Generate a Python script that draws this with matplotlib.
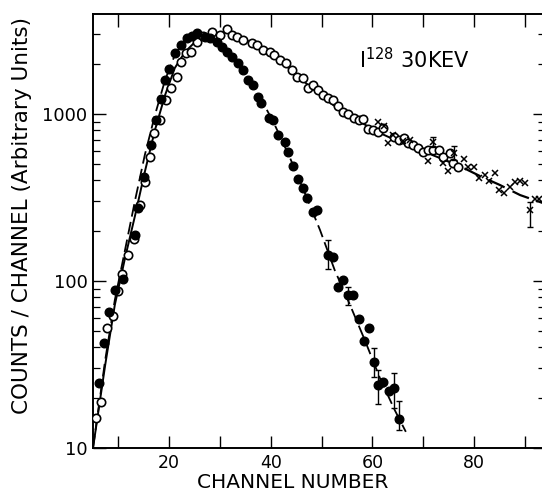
import numpy as np
import matplotlib
matplotlib.use("Agg")
import matplotlib.pyplot as plt
from matplotlib.ticker import FixedLocator, LogLocator, NullFormatter

plt.rcParams['font.family'] = ['DejaVu Sans']
plt.rcParams['mathtext.default'] = 'regular'

# ── filled circles (dashed fit) ───────────────────────────────────────────────
ch_full = [6.2, 7.2, 8.2, 9.3, 10.9, 13.3, 13.9, 15.0, 16.4, 17.4, 18.4, 19.2,
           20.0, 21.1, 22.3, 23.5, 24.5, 25.5, 27.0, 28.0, 29.4, 30.4, 31.4,
           32.4, 33.5, 34.5, 35.5, 36.5, 37.5, 38.1, 39.6, 40.4, 41.4, 42.8,
           43.4, 44.4, 45.4, 46.3, 47.1, 48.3, 49.1, 51.3, 52.2, 53.2, 54.2,
           55.2, 56.2, 57.4, 58.3, 59.3, 60.3, 61.1, 62.1, 63.3, 64.3, 65.2]
cnt_full = [24.5, 42.6, 65, 88, 103, 188, 273, 420, 652, 920, 1230, 1600,
            1860, 2320, 2590, 2850, 2930, 3050, 2890, 2850, 2700, 2520, 2350,
            2190, 2020, 1830, 1600, 1490, 1265, 1160, 946, 920, 748, 679,
            592, 488, 408, 361, 314, 259, 266, 143, 139, 92, 101,
            82, 82, 59, 44, 52, 32.7, 23.8, 24.8, 21.9, 22.8, 14.9]

# error bars on filled circles: channel, low, high
eb_full_ch = [51.3, 55.2, 60.3, 61.1, 64.3, 65.2]
eb_full_lo = [118, 72, 26.6, 18.3, 17.4, 12.8]
eb_full_hi = [176, 92, 39.7, 29.3, 28.1, 19.1]

# ── open circles (solid fit) ──────────────────────────────────────────────────
ch_open = [5.6, 6.6, 7.8, 8.9, 9.9, 10.7, 11.9, 13.1, 14.3, 15.2, 16.2, 17.0,
           18.2, 19.4, 20.4, 21.5, 22.3, 23.3, 24.3, 25.5, 26.7, 28.4, 30.0,
           31.4, 32.4, 33.3, 34.5, 36.3, 37.3, 38.5, 39.8, 40.6, 41.8, 43.0,
           44.2, 45.2, 46.3, 47.3, 48.3, 49.3, 50.3, 51.3, 52.2, 53.2, 54.2,
           55.2, 56.4, 57.4, 58.1, 59.1, 60.1, 61.1, 62.1, 64.3, 65.2, 66.2,
           67.0, 68.0, 69.0, 70.0, 70.9, 71.9, 73.1, 73.9, 75.3, 75.9, 76.9]
cnt_open = [15.1, 18.8, 52, 62, 87, 110, 143, 178, 285, 392, 553, 769,
            920, 1213, 1432, 1667, 2050, 2320, 2350, 2700, 2930, 3100, 2970,
            3230, 2970, 2890, 2770, 2660, 2590, 2420, 2350, 2250, 2100, 2020,
            1830, 1667, 1645, 1432, 1490, 1393, 1300, 1247, 1213, 1117, 1028,
            1000, 946, 920, 934, 813, 802, 780, 824, 728, 698, 718,
            670, 652, 625, 592, 608, 608, 608, 553, 583, 509, 482]

# ── crosses ───────────────────────────────────────────────────────────────────
ch_x = [61.1, 62.3, 63.1, 64.1, 66.0, 67.5, 70.9, 71.9, 73.9, 74.9, 76.1,
        78.0, 78.8, 80.0, 81.0, 82.2, 83.0, 84.1, 84.9, 85.9, 87.1, 88.1,
        89.1, 90.0, 91.0, 92.0, 92.8]
cnt_x = [896, 847, 670, 748, 690, 700, 523, 679, 509, 456, 583,
         537, 482, 482, 414, 432, 397, 444, 351, 337, 366, 392,
         397, 386, 266, 310, 310]

eb_x_ch = [71.9, 76.1, 91.0]
eb_x_lo = [633, 528, 210]
eb_x_hi = [728, 643, 297]

# ── fit curves ────────────────────────────────────────────────────────────────
fit_full_ch = [5.0, 7.4, 9.3, 11.3, 13.3, 15.2, 17.2, 19.2, 21.1, 23.1, 25.1,
               27.0, 29.0, 32.0, 34.9, 37.9, 40.8, 43.8, 46.7, 49.7, 52.6,
               55.6, 58.5, 61.5, 64.4, 66.6]
fit_full_cnt = [10, 33.6, 77, 153, 306, 568, 986, 1600, 2250, 2770, 3050,
                2970, 2770, 2320, 1830, 1265, 859, 545, 337, 202, 116,
                72, 44.4, 26.2, 16.9, 12.5]

fit_open_ch = [5.0, 7.4, 9.3, 11.3, 13.3, 15.2, 17.2, 19.2, 21.1, 23.1, 25.1,
               28.0, 31.0, 33.9, 37.9, 41.8, 45.7, 49.7, 53.6, 57.6, 61.5,
               65.4, 69.4, 73.3]
fit_open_cnt = [10, 31.4, 72, 137, 248, 450, 802, 1300, 1884, 2350, 2700,
                3010, 3100, 2890, 2520, 2100, 1645, 1300, 1057, 896, 769,
                679, 608, 545]
fit_tail_ch = [73.3, 77.2, 81.2, 85.1, 89.1, 94.0]
fit_tail_cnt = [545, 488, 425, 376, 327, 290]

# ── plot ──────────────────────────────────────────────────────────────────────
fig = plt.figure(figsize=(5.42, 4.91), dpi=100, facecolor='white')
ax = fig.add_axes([93/542, 43/491, 452/542, 434/491])
ax.set_yscale('log')
ax.set_xlim(5, 94)
ax.set_ylim(10, 3970)

k = 'black'
ax.plot(fit_full_ch, fit_full_cnt, color=k, lw=1.3, dashes=(7, 3), zorder=2)
ax.plot(fit_open_ch, fit_open_cnt, color=k, lw=1.4, zorder=2)
ax.plot(fit_tail_ch, fit_tail_cnt, color=k, lw=1.6, dashes=(8, 4), zorder=2)

ax.plot(ch_open, cnt_open, 'o', ms=6, mfc='white', mec=k, mew=1.2, zorder=3)
ax.plot(ch_full, cnt_full, 'o', ms=6.2, mfc=k, mec=k, zorder=4)
ax.plot(ch_x, cnt_x, 'x', ms=4, mec=k, mew=1.1, zorder=4)

for chs, lo, hi in [(eb_full_ch, eb_full_lo, eb_full_hi),
                    (eb_x_ch, eb_x_lo, eb_x_hi)]:
    ax.vlines(chs, lo, hi, color=k, lw=1.0, zorder=3)
    ax.plot(chs, lo, '_', ms=5, mew=1.0, color=k, zorder=3)
    ax.plot(chs, hi, '_', ms=5, mew=1.0, color=k, zorder=3)

# ticks
ax.xaxis.set_major_locator(FixedLocator(np.arange(10, 91, 10)))
ax.set_xticklabels(['' if v % 20 else str(v) for v in range(10, 91, 10)])
ax.yaxis.set_major_locator(FixedLocator([10, 100, 1000]))
ax.set_yticklabels(['10', '100', '1000'])
ax.yaxis.set_minor_locator(LogLocator(base=10, subs=np.arange(2, 10)))
ax.yaxis.set_minor_formatter(NullFormatter())
ax.tick_params(axis='both', which='major', direction='in', length=9,
               width=1.0, top=True, right=True, labelsize=13)
ax.tick_params(axis='both', which='minor', direction='in', length=5,
               width=0.9, top=False, right=True)
ax.tick_params(axis='x', which='major', pad=4, labelsize=12.5)
ax.tick_params(axis='y', which='major', pad=4)
for s in ax.spines.values():
    s.set_linewidth(1.4)

ax.text(0.589, 0.876, 'I$^{128}$ 30KEV', transform=ax.transAxes,
        fontsize=15, ha='left', va='baseline')

fig.text(293/542, 1 - 483/491, 'CHANNEL NUMBER', fontsize=14.5,
         ha='center', va='center')
fig.text(22/542, 1 - 215/491, 'COUNTS / CHANNEL (Arbitrary Units)',
         fontsize=15.5, rotation=90, ha='center', va='center')

fig.savefig('out.png', dpi=100, facecolor='white')
